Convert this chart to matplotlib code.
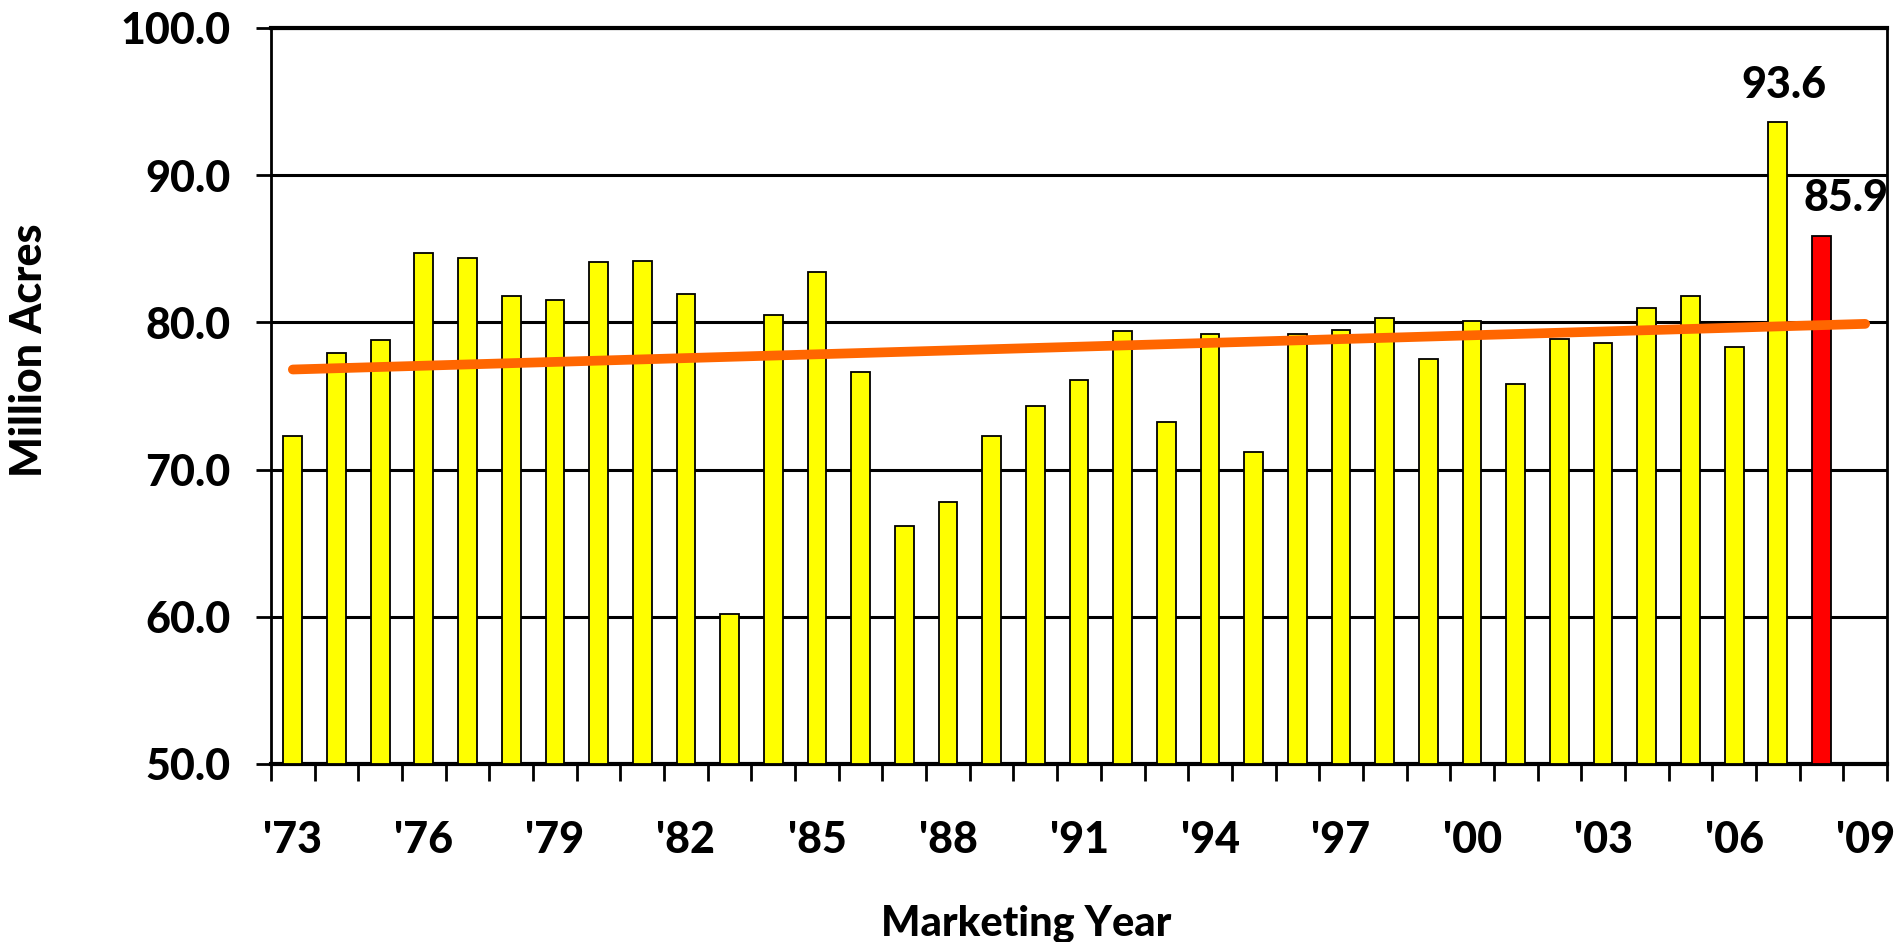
import matplotlib
matplotlib.use("Agg")
import matplotlib.pyplot as plt
import numpy as np

plt.rcParams['font.family'] = ['Lato', 'DejaVu Sans']
plt.rcParams['font.weight'] = 'black'

# planted acreage by marketing year (million acres)
years = list(range(1973, 2009))
acres = [72.3, 77.9, 78.8, 84.7, 84.4, 81.8, 81.5, 84.1, 84.2, 81.9,
         60.2, 80.5, 83.4, 76.6, 66.2, 67.8, 72.3, 74.3, 76.1, 79.4,
         73.2, 79.2, 71.2, 79.2, 79.5, 80.3, 77.5, 80.1, 75.8, 78.9,
         78.6, 81.0, 81.8, 78.3, 93.6, 85.9]
highlight_year = 2008

# trend line end points
trend_years = [1973, 2009]
trend_values = [76.8, 79.9]

labelled = {2007: "93.6", 2008: "85.9"}
tick_years = list(range(1973, 2010, 3))
tick_labels = ["'%02d" % (y % 100) for y in tick_years]

fig = plt.figure(figsize=(18.99, 9.42), dpi=100)
ax = fig.add_axes([271 / 1899, 1 - 764 / 942, (1887 - 271) / 1899, (764 - 28) / 942])

colors = ["red" if y == highlight_year else "yellow" for y in years]
ax.bar(years, [a - 50 for a in acres], bottom=50, width=0.43, color=colors,
       edgecolor="black", linewidth=1.3, zorder=3)

ax.plot(trend_years, trend_values, color="#FF6600", linewidth=7,
        solid_capstyle="round", zorder=4)

for y, txt in labelled.items():
    v = acres[years.index(y)]
    dx = 0.55 if y == highlight_year else 0.15
    ax.text(y + dx, v + 1.2, txt, ha="center", va="bottom", fontsize=31,
            fontweight="black")

ax.set_xlim(1972.5, 2009.5)
ax.set_ylim(50, 100)
ax.set_yticks(np.arange(50, 101, 10))
ax.set_yticklabels(["%.1f" % v for v in np.arange(50, 101, 10)])
ax.yaxis.grid(True, color="black", linewidth=2.2, zorder=1)
ax.set_axisbelow(True)

ax.set_xticks(tick_years)
ax.set_xticklabels(tick_labels)
ax.set_xticks(np.arange(1972.5, 2010, 1), minor=True)
ax.tick_params(axis="x", which="major", length=0, pad=40, labelsize=31)
ax.tick_params(axis="x", which="minor", length=12, width=2, direction="out")
ax.tick_params(axis="y", length=11, width=2, direction="out", pad=18, labelsize=31)

for side in ["left", "right"]:
    ax.spines[side].set_linewidth(2)
ax.spines["bottom"].set_linewidth(3)
ax.spines["top"].set_linewidth(3)

fig.text(29 / 1899, 1 - 350 / 942, "Million Acres", rotation=90, ha="center",
         va="center", fontsize=31, fontweight="black")
fig.text(1026 / 1899, 1 - 924 / 942, "Marketing Year", ha="center", va="center",
         fontsize=30, fontweight="black")

fig.savefig("out.png", dpi=100)
